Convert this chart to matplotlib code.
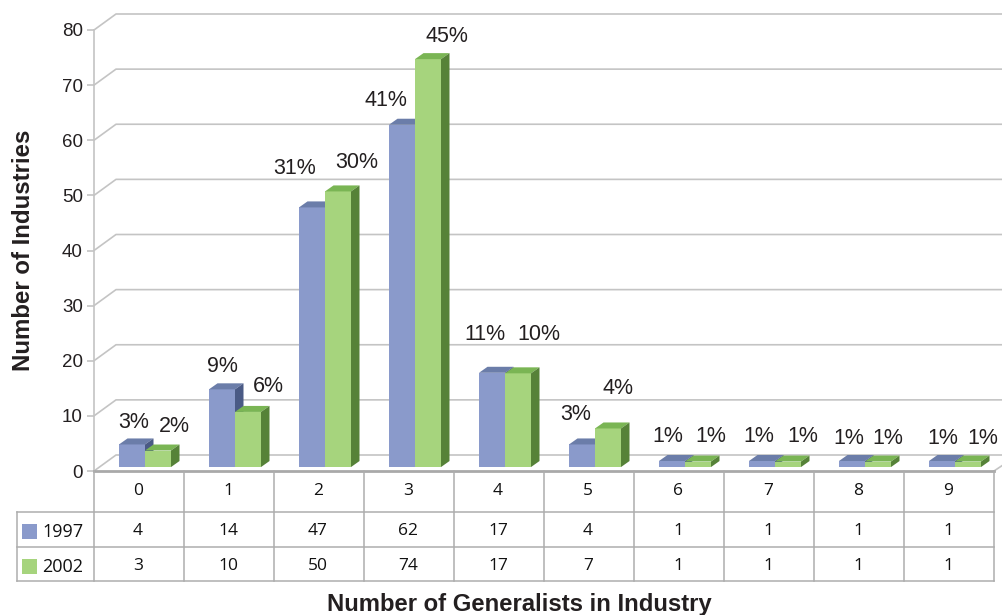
import matplotlib
matplotlib.use('Agg')
import matplotlib.pyplot as plt

categories = [0, 1, 2, 3, 4, 5, 6, 7, 8, 9]
values_1997 = [4, 14, 47, 62, 17, 4, 1, 1, 1, 1]
values_2002 = [3, 10, 50, 74, 17, 7, 1, 1, 1, 1]
pct_1997 = ['3%', '9%', '31%', '41%', '11%', '3%', '1%', '1%', '1%', '1%']
pct_2002 = ['2%', '6%', '30%', '45%', '10%', '4%', '1%', '1%', '1%', '1%']
y_ticks = [0, 10, 20, 30, 40, 50, 60, 70, 80]

# label centres in pixels, they were placed by hand in the original
pct_pos_1997 = [(134, 423), (222, 367), (295, 168), (386, 101), (485, 335),
                (576, 415), (668, 436), (759, 436), (849, 438), (943, 438)]
pct_pos_2002 = [(174, 427), (268, 386), (357, 163), (447, 37), (539, 335),
                (618, 388), (711, 436), (803, 436), (888, 439), (983, 438)]

W, H = 1003, 615
GRID = '#c4c4c4'
TXT = '#231f20'
BLUE = ('#8a9acb', '#6b7da9', '#4a5a85')
GREEN = ('#a6d47d', '#7ab554', '#568238')

plt.rcParams['font.family'] = ['Liberation Sans', 'DejaVu Sans']

fig = plt.figure(figsize=(W / 100, H / 100), dpi=100)
ax = fig.add_axes([94 / W, (H - 471) / H, 900 / W, 441 / H])
ax.set_xlim(0, 10)
ax.set_ylim(0, 80)
px_x = 900 / 10
px_y = 441 / 80

# back wall
wall_x = 22 / px_x
wall_y = 16 / px_y
for v in y_ticks:
    ax.plot([0, wall_x, 10.1], [v, v + wall_y, v + wall_y], color=GRID, lw=1.2,
            clip_on=False, zorder=1)
ax.plot([10, 10.1], [0, 6 / px_y], color=GRID, lw=1.2, clip_on=False, zorder=1)


def bar3d(x, val, cols, w, base):
    dx = 8.5 / px_x
    dy = 6 / px_y
    ax.bar(x, val, width=w, bottom=base, align='edge', color=cols[0], lw=0,
           clip_on=False, zorder=3)
    top = base + val
    ax.fill([x, x + w, x + w + dx, x + dx], [top, top, top + dy, top + dy],
            color=cols[1], lw=0, clip_on=False, zorder=3)
    ax.fill([x + w, x + w + dx, x + w + dx, x + w],
            [base, base + dy, top + dy, top],
            color=cols[2], lw=0, clip_on=False, zorder=3)


bar_w = 26 / px_x
base = 4.5 / px_y
for i in range(len(categories)):
    x0 = i + 25 / px_x
    bar3d(x0, values_1997[i], BLUE, bar_w, base)
    bar3d(x0 + bar_w, values_2002[i], GREEN, bar_w, base - 0.1)

ax.set_xticks([])
ax.set_yticks(y_ticks)
ax.tick_params(axis='y', length=5, width=1.2, color=GRID, labelsize=13.5,
               labelcolor=TXT, pad=3)
for s in ['top', 'right']:
    ax.spines[s].set_visible(False)
ax.spines['left'].set_color(GRID)
ax.spines['left'].set_linewidth(1.2)
ax.spines['bottom'].set_color('#a9a9a9')
ax.spines['bottom'].set_linewidth(2)
ax.patch.set_alpha(0)
ax.set_ylabel('Number of Industries', fontsize=17.3, fontweight='bold', color=TXT)
ax.yaxis.set_label_coords((35 - 94) / 900, (471 - 250) / 441)

# overlay in pixel coordinates for the data table and the labels
ov = fig.add_axes([0, 0, 1, 1], zorder=5)
ov.set_xlim(0, W)
ov.set_ylim(H, 0)
ov.axis('off')

LINE = '#adadad'
for yy in [512, 547, 581]:
    ov.plot([17, 994], [yy, yy], color=LINE, lw=1.1)
ov.plot([17, 17], [512, 581], color=LINE, lw=1.1)
for i in range(len(categories) + 1):
    ov.plot([94 + 90 * i] * 2, [471, 581], color=LINE, lw=1.1)

tfont = ['Open Sans', 'DejaVu Sans']
for i, c in enumerate(categories):
    xc = 138 + 90 * i
    ov.text(xc, 491, str(c), ha='center', va='center', fontsize=12.5, color='#111111', family=tfont)
    ov.text(xc, 531, str(values_1997[i]), ha='center', va='center', fontsize=12.5, color='#111111', family=tfont)
    ov.text(xc, 566, str(values_2002[i]), ha='center', va='center', fontsize=12.5, color='#111111', family=tfont)
    ov.text(*pct_pos_1997[i], pct_1997[i], ha='center', va='center', fontsize=15.5, color=TXT)
    ov.text(*pct_pos_2002[i], pct_2002[i], ha='center', va='center', fontsize=15.5, color=TXT)

ov.add_patch(plt.Rectangle((22, 524), 15, 15, color=BLUE[0], lw=0))
ov.add_patch(plt.Rectangle((22, 559), 15, 15, color=GREEN[0], lw=0))
ov.text(42, 532, '1997', va='center', fontsize=13, color='#111111', family=tfont)
ov.text(42, 567, '2002', va='center', fontsize=13, color='#111111', family=tfont)
ov.text(519, 604, 'Number of Generalists in Industry', ha='center', va='center',
        fontsize=17.2, fontweight='bold', color=TXT)

fig.savefig('out.png', dpi=100)
